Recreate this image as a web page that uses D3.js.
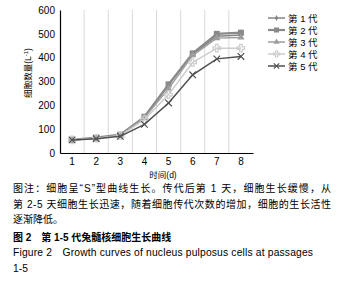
<!DOCTYPE html>
<html>
<head>
<meta charset="utf-8">
<script src="https://cdn.jsdelivr.net/npm/d3@7"></script>
<style>
body { margin:0; background:#fff; }
text { font-family: "Liberation Sans", Arial, "Noto Sans CJK SC", sans-serif; }
</style>
</head>
<body>
<div id="chart"></div>
<script>
var days = ["1","2","3","4","5","6","7","8"]
var seriesNames = ["第 1 代","第 2 代","第 3 代","第 4 代","第 5 代"]
var gen1 = [55, 63, 75, 150, 285, 415, 490, 495]
var gen2 = [55, 65, 77, 152, 288, 418, 500, 505]
var gen3 = [55, 62, 74, 148, 270, 410, 482, 485]
var gen4 = [55, 62, 72, 140, 245, 380, 440, 440]
var gen5 = [55, 60, 70, 120, 210, 328, 395, 405]
var yTicks = [0, 100, 200, 300, 400, 500, 600]
var captionLines = [
  "图注：细胞呈“S”型曲线生长。传代后第 1 天，细胞生长缓慢，从",
  "第 2-5 天细胞生长迅速，随着细胞传代次数的增加，细胞的生长活性",
  "逐渐降低。"
]

var allSeries = [gen1, gen2, gen3, gen4, gen5]
var colors = ["#858585", "#8a8a8a", "#9d9d9d", "#cdcdcd", "#4f4f4f"]
var widths = [1.5, 2.2, 1.5, 1.5, 1.5]
var symbols = [d3.symbolDiamond, d3.symbolSquare, d3.symbolTriangle, d3.symbolCross, d3.symbolX]
var symSizes = [14, 36, 22, 30, 30]

var svg = d3.select("#chart").append("svg")
  .attr("width", 357).attr("height", 290)

var x = d3.scaleBand().domain(days).range([60, 253])
var y = d3.scaleLinear().domain([0, 600]).range([153, 10])

// vertical gridlines between days
svg.append("g").selectAll("line").data(days.slice(1)).enter().append("line")
  .attr("x1", function(d){ return x(d) }).attr("x2", function(d){ return x(d) })
  .attr("y1", y(600)).attr("y2", y(0))
  .attr("stroke", "#d9d9d9").attr("stroke-width", 1)

// y axis
var yAxis = svg.append("g").attr("transform", "translate(60,0)")
  .call(d3.axisLeft(y).tickValues(yTicks).tickSize(0).tickPadding(5))
yAxis.select(".domain").attr("stroke", "#000").attr("stroke-width", 1.2)
yAxis.selectAll("text").attr("font-size", 10).attr("fill", "#000")

// x axis
var xAxis = svg.append("g").attr("transform", "translate(0," + y(0) + ")")
  .call(d3.axisBottom(x).tickSize(0).tickPadding(5))
xAxis.select(".domain").attr("stroke", "#000").attr("stroke-width", 1.2)
xAxis.selectAll("text").attr("font-size", 10).attr("fill", "#000")

// axis titles
svg.append("text").attr("x", 163).attr("y", 178).attr("text-anchor", "middle")
  .attr("font-size", 8.5).text("时间(d)")
var yLabel = svg.append("text").attr("transform", "translate(31,73) rotate(-90)")
  .attr("text-anchor", "middle").attr("font-size", 8.5)
yLabel.append("tspan").text("细胞数量(L")
yLabel.append("tspan").attr("font-size", 6).attr("dy", -3).text("-1")
yLabel.append("tspan").attr("dy", 3).text(")")

// lines + markers
var line = d3.line().x(function(d, i){ return x(days[i]) + x.bandwidth() / 2 }).y(function(d){ return y(d) })
allSeries.forEach(function(s, k){
  svg.append("path").datum(s).attr("d", line)
    .attr("fill", "none").attr("stroke", colors[k]).attr("stroke-width", widths[k])
  svg.append("g").selectAll("path").data(s).enter().append("path")
    .attr("transform", function(d, i){ return "translate(" + (x(days[i]) + x.bandwidth() / 2) + "," + y(d) + ")" })
    .attr("d", d3.symbol().type(symbols[k]).size(symSizes[k]))
    .attr("fill", k >= 3 ? "none" : colors[k])
    .attr("stroke", colors[k]).attr("stroke-width", k >= 3 ? 1.2 : 0)
})

// legend
var legend = svg.append("g")
seriesNames.forEach(function(name, k){
  var ly = 18 + k * 12
  legend.append("line").attr("x1", 268).attr("x2", 285).attr("y1", ly).attr("y2", ly)
    .attr("stroke", colors[k]).attr("stroke-width", widths[k])
  legend.append("path").attr("transform", "translate(276.5," + ly + ")")
    .attr("d", d3.symbol().type(symbols[k]).size(symSizes[k] * 0.7))
    .attr("fill", k >= 3 ? "none" : colors[k])
    .attr("stroke", colors[k]).attr("stroke-width", k >= 3 ? 1.1 : 0)
  legend.append("text").attr("x", 288).attr("y", ly + 3.5).attr("font-size", 9.5).text(name)
})

// caption
captionLines.forEach(function(t, i){
  var el = svg.append("text").attr("x", 13).attr("y", 192 + i * 15.5).attr("font-size", 10).text(t)
  if (i < 2) el.attr("textLength", 318).attr("lengthAdjust", "spacing")
})
svg.append("text").attr("x", 13).attr("y", 241).attr("font-size", 10).attr("font-weight", "bold")
  .text("图 2　第 1-5 代兔髓核细胞生长曲线")
svg.append("text").attr("x", 13).attr("y", 256).attr("font-size", 10.3)
  .attr("textLength", 300).attr("lengthAdjust", "spacing")
  .text("Figure 2　Growth curves of nucleus pulposus cells at passages")
svg.append("text").attr("x", 13).attr("y", 272).attr("font-size", 10.3).text("1-5")
</script>
</body>
</html>
